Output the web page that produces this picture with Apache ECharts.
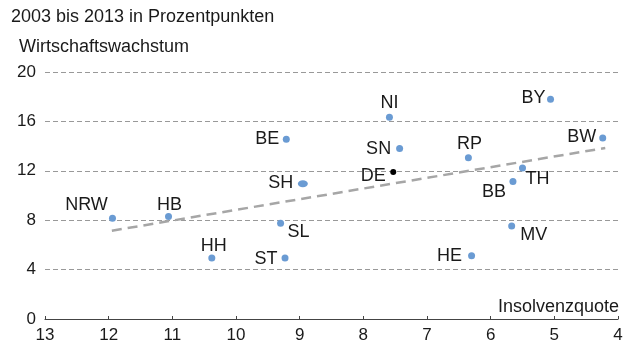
<!DOCTYPE html>
<html>
<head>
<meta charset="utf-8">
<style>
  html, body { margin: 0; padding: 0; background: #fff; }
  #chart { width: 629px; height: 345px; }
</style>
<script src="https://cdn.jsdelivr.net/npm/echarts@6/dist/echarts.min.js"></script>
</head>
<body>
<div id="chart"></div>
<script>
// Bundesländer: Insolvenzquote (x) vs. Wirtschaftswachstum 2003–2013 (y)
const states = ['NRW', 'HB', 'HH', 'ST', 'SL', 'SH', 'BE', 'NI', 'SN', 'RP', 'BY', 'BW', 'TH', 'BB', 'MV', 'HE'];
const insolvency = [11.94, 11.06, 10.38, 9.23, 9.30, 8.95, 9.21, 7.59, 7.43, 6.35, 5.06, 4.24, 5.50, 5.65, 5.67, 6.30];
const growth = [8.15, 8.29, 4.93, 4.93, 7.75, 10.95, 14.55, 16.34, 13.80, 13.06, 17.80, 14.66, 12.22, 11.14, 7.54, 5.12];

// Deutschland gesamt
const germany = { name: 'DE', x: 7.53, y: 11.9 };

// Trendlinie (Endpunkte)
const trendX = [11.95, 4.2];
const trendY = [7.15, 13.85];

// Label placement relative to each marker centre (px)
const labelOffsets = {
  NRW: [-26, -13], HB: [1, -12], HH: [2, -12], ST: [-19, 1], SL: [18, 9],
  SH: [-22, -1], BE: [-19, 0], NI: [0, -14], SN: [-21, 0], RP: [1, -14],
  BY: [-17, -1], BW: [-21, -1], TH: [15, 11], BB: [-19, 11], MV: [22, 9],
  HE: [-22, 0], DE: [-20, 4]
};

const FONT = 'Liberation Sans, Arial, sans-serif';
const TEXT = '#1a1a1a';
const LABEL_SIZE = 18;

const pointData = states.map((s, i) => ({
  name: s,
  value: [insolvency[i], growth[i]],
  symbolSize: s === 'SH' ? [10, 7] : 7,
  label: { offset: labelOffsets[s] }
}));
pointData.push({
  name: germany.name,
  value: [germany.x, germany.y],
  symbolSize: 6,
  itemStyle: { color: '#000' },
  label: { offset: labelOffsets.DE, color: TEXT }
});

const chart = echarts.init(document.getElementById('chart'), null, { renderer: 'canvas' });
chart.setOption({
  animation: false,
  backgroundColor: '#fff',
  textStyle: { fontFamily: FONT },
  grid: { left: 45, right: 11, top: 72, bottom: 26, containLabel: false },
  graphic: [
    { type: 'text', left: 11, top: 8, style: { text: '2003 bis 2013 in Prozentpunkten', fontSize: 18, fill: TEXT, fontFamily: FONT } },
    { type: 'text', left: 19, top: 38, style: { text: 'Wirtschaftswachstum', fontSize: 18, fill: TEXT, fontFamily: FONT } },
    { type: 'text', right: 10, top: 298, style: { text: 'Insolvenzquote', fontSize: 18, fill: TEXT, fontFamily: FONT } }
  ],
  xAxis: {
    type: 'value',
    inverse: true,
    min: 4,
    max: 13,
    interval: 1,
    axisLine: { show: true, lineStyle: { color: '#444', width: 1.2 } },
    axisTick: { show: true, inside: true, length: 3, lineStyle: { color: '#444' } },
    axisLabel: { fontSize: 17, color: TEXT, margin: 8, fontFamily: FONT },
    splitLine: { show: false }
  },
  yAxis: {
    type: 'value',
    min: 0,
    max: 20,
    interval: 4,
    axisLine: { show: false },
    axisTick: { show: false },
    axisLabel: { fontSize: 17, color: TEXT, margin: 9, fontFamily: FONT },
    splitLine: { show: true, lineStyle: { color: '#999', type: [5, 3], width: 1 } }
  },
  series: [
    {
      type: 'line',
      data: trendX.map((x, i) => [x, trendY[i]]),
      symbol: 'none',
      lineStyle: { color: '#a6a6a6', width: 2.5, type: [10, 6] },
      silent: true,
      z: 1
    },
    {
      type: 'scatter',
      data: pointData,
      itemStyle: { color: '#6a9bd3', opacity: 1 },
      label: {
        show: true,
        position: 'inside',
        formatter: '{b}',
        fontSize: LABEL_SIZE,
        color: TEXT,
        fontFamily: FONT
      },
      z: 3
    }
  ]
});
</script>
</body>
</html>
